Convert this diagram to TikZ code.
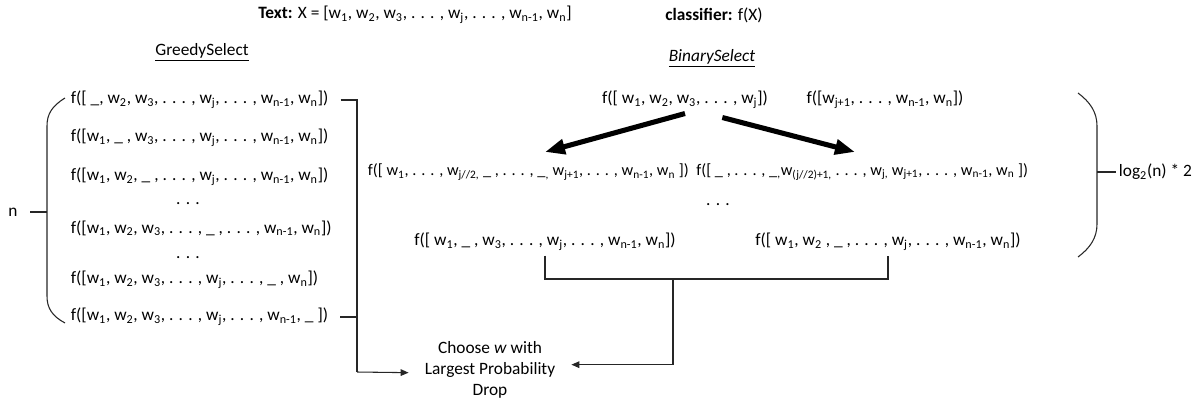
\documentclass[tikz,border=0pt]{standalone}
\usepackage{fontspec}
\setmainfont{Carlito}
\usetikzlibrary{arrows.meta}
\newcommand{\wsub}[1]{w\textsubscript{#1}}

\begin{document}
\begin{tikzpicture}[x=0.75pt,y=-0.75pt,
  font=\fontsize{13}{15.75}\selectfont,
  row/.style={anchor=west,inner sep=2pt},
  ln/.style={draw=black!85,line width=0.8pt},
  fl/.style={-{Triangle[length=6pt,width=5pt]},draw=black!85,line width=0.8pt},
  fat/.style={-{Triangle[length=15pt,width=11pt]},line width=3.8pt},
]
\useasboundingbox (0,0) rectangle (1194,401);
% headings
\node (title) at (415,15) {\textbf{Text:} X = [\wsub{1}, \wsub{2}, \wsub{3}, . . . , \wsub{j}, . . . , \wsub{n-1}, \wsub{n}]};
\node (clf) at (714,15) {\textbf{classifier:} f(X)};
\node (greedy) at (202,52) {\underline{GreedySelect}};
\node (binary) at (712,58) {\underline{\textit{BinarySelect}}};
% greedy column
\node[row] (g1) at (68,100) {f([ \_, \wsub{2}, \wsub{3}, . . . , \wsub{j}, . . . , \wsub{n-1}, \wsub{n}])};
\node[row] (g2) at (68,138) {f([\wsub{1}, \_ , \wsub{3}, . . . , \wsub{j}, . . . , \wsub{n-1}, \wsub{n}])};
\node[row] (g3) at (68,177) {f([\wsub{1}, \wsub{2}, \_ , . . . , \wsub{j}, . . . , \wsub{n-1}, \wsub{n}])};
\node (gd1) at (188,204) {. . .};
\node[row] (g4) at (68,228) {f([\wsub{1}, \wsub{2}, \wsub{3}, . . . , \_ , . . . , \wsub{n-1}, \wsub{n}])};
\node (gd2) at (188,258) {. . .};
\node[row] (g5) at (68,280) {f([\wsub{1}, \wsub{2}, \wsub{3}, . . . , \wsub{j}, . . . , \_ , \wsub{n}])};
\node[row] (g6) at (68,317) {f([\wsub{1}, \wsub{2}, \wsub{3}, . . . , \wsub{j}, . . . , \wsub{n-1}, \_ ])};
\node (n) at (13,212) {n};
\coordinate (lb) at (47,212);
\draw[ln] (65,98) .. controls (52,106) and (47,114) .. (47,126) -- (47,296) .. controls (47,308) and (52,316) .. (65,323);
\draw[ln] ([xshift=6pt]n.east) -- (lb);
% binary rows
\node (b1a) at (685,100) {f([ \wsub{1}, \wsub{2}, \wsub{3}, . . . , \wsub{j}])};
\node (b1b) at (885,100) {f([\wsub{j+1}, . . . , \wsub{n-1}, \wsub{n}])};
\node[row,font=\fontsize{12.2}{15}\selectfont] (b2a) at (365,172) {f([ \wsub{1}, . . . , \wsub{j//2,} \_ , . . . , \_\textsubscript{,} \wsub{j+1}, . . . , \wsub{n-1}, \wsub{n} ])};
\node[anchor=east,inner sep=2pt,font=\fontsize{12.2}{15}\selectfont] (b2b) at (1031,172) {f([ \_ , . . . , \_\textsubscript{,}\wsub{(j//2)+1,} . . . , \wsub{j,} \wsub{j+1}, . . . , \wsub{n-1}, \wsub{n} ])};
\node (bd) at (718,205) {. . .};
\node (b3a) at (545,242) {f([ \wsub{1}, \_ , \wsub{3}, . . . , \wsub{j}, . . . , \wsub{n-1}, \wsub{n}])};
\node (b3b) at (888,242) {f([ \wsub{1}, \wsub{2} , \_ , . . . , \wsub{j}, . . . , \wsub{n-1}, \wsub{n}])};
\coordinate (tl) at (545,152);
\coordinate (tr) at (855,152);
\draw[fat] (b1a.south) -- (tl);
\draw[fat] ([xshift=28pt,yshift=-3pt]b1a.south) -- (tr);
\draw[ln] (1078,93) .. controls (1090,102) and (1097,112) .. (1097,126) -- (1097,224) .. controls (1097,238) and (1090,248) .. (1078,257);
\coordinate (rb) at (1097,172);
\node[anchor=west,inner sep=2pt] (lg) at (1116,172) {log\textsubscript{2}(n) * 2};
\draw[ln] (rb) -- (lg.west);
% result
\node[align=center,inner sep=2pt] (choose) at (490,370) {Choose \textit{w} with\\Largest Probability\\Drop};
\coordinate (gr) at (357,372);
\coordinate (bj) at (673,279);
\draw[ln] ([xshift=7pt]g1.east) -| (gr);
\draw[ln] ([xshift=7pt]g6.east) -- (g6.east -| gr);
\draw[fl] (gr) -- ([xshift=-10pt,yshift=-2pt]choose.west);
\draw[ln] (b3a.south) |- (bj) -| (b3b.south);
\draw[fl] (bj) |- ([xshift=10pt,yshift=4pt]choose.east);
\end{tikzpicture}
\end{document}
